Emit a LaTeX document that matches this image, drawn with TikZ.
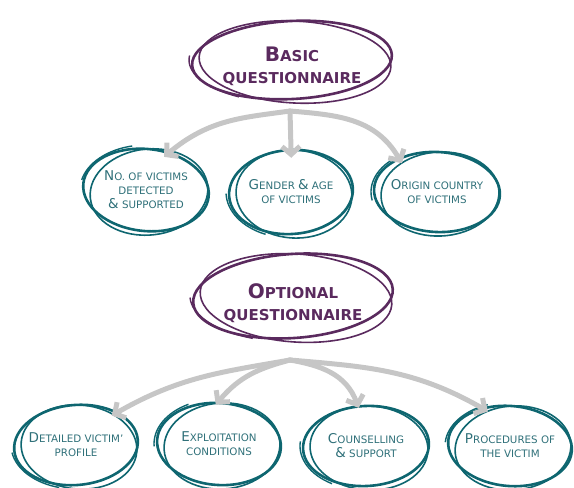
\documentclass[tikz,border=0pt]{standalone}
\usepackage{fontspec}
\setmainfont{DejaVu Sans}
\usetikzlibrary{shapes.geometric,arrows.meta,positioning}

\definecolor{plum}{HTML}{5A2A5E}
\definecolor{tealring}{HTML}{0E6670}
\definecolor{tealtext}{HTML}{2F7079}
\definecolor{arrowgray}{HTML}{C6C6C6}

% big first letters of the fake small caps
\newcommand\inibig[1]{{\fontsize{20}{22}\selectfont #1}}
\newcommand\inismall[1]{{\fontsize{13.5}{14}\selectfont #1}}

% a hand drawn ring round a point
\newcommand\sketchring[5]{%
\draw [#5, line width=2.6pt] (#1) ellipse [x radius=#2pt, y radius=#3pt, rotate=#4];
\draw [#5, line width=1.6pt] ([shift={(3pt,-2pt)}]#1) ellipse [x radius=#2pt-4pt, y radius=#3pt+2pt, rotate=-#4];
\draw [#5, line width=1.4pt] ([shift={(150+#4*8:#2pt+3pt and #3pt+4pt)}]#1)
  arc [start angle=150+#4*8, end angle=215+#4*8, x radius=#2pt+3pt, y radius=#3pt+4pt];
}

\tikzset{
  head/.style={ellipse, minimum width=200pt, minimum height=84pt, inner sep=0pt,
    align=center, text=plum, font=\bfseries\fontsize{15}{22}\selectfont},
  leaf/.style={ellipse, minimum width=128pt, minimum height=86pt, inner sep=0pt,
    align=center, text=tealtext, font=\fontsize{10.3}{14}\selectfont},
  flow/.style={arrowgray, line width=5pt, line cap=round,
    -{Straight Barb[length=8pt,width=18pt]}}
}

\begin{document}
\begin{tikzpicture}[x=1pt,y=1pt]
\useasboundingbox (0,0) rectangle (574,488);

% the basic questionnaire
\node [head] (basic) at (292,422) {\inibig{B}ASIC\\QUESTIONNAIRE};
\coordinate (basicmid) at (292,428);
\sketchring{basicmid}{100}{39}{3}{plum}

\node [leaf] (t1) at (146,298) {\inismall{N}O. OF VICTIMS\\DETECTED\\\inismall{\&} SUPPORTED};
\node [leaf] (t2) at (291,296) {\inismall{G}ENDER \inismall{\&} AGE\\OF VICTIMS};
\node [leaf] (t3) at (437,296) {\inismall{O}RIGIN COUNTRY\\OF VICTIMS};
\sketchring{t1.center}{63}{41}{-6}{tealring}
\sketchring{t2.center}{62}{42}{4}{tealring}
\sketchring{t3.center}{63}{40}{-3}{tealring}

\coordinate (hubA) at (290,377);
\draw [flow, shorten >=-10pt] (hubA) to [out=188,in=40] (t1.57);
\draw [flow, shorten >=-9pt] (hubA) -- (t2.north);
\draw [flow, shorten >=-7pt] (hubA) to [out=-5,in=120] (t3.138);

% the optional questionnaire
\node [head] (opt) at (293,185) {\inibig{O}PTIONAL\\QUESTIONNAIRE};
\coordinate (optmid) at (293,192);
\sketchring{optmid}{100}{42}{4}{plum}

\node [leaf] (b1) at (76,43) {\inismall{D}ETAILED VICTIM’\\PROFILE};
\node [leaf] (b2) at (219,44) {\inismall{E}XPLOITATION\\CONDITIONS};
\node [leaf] (b3) at (366,42) {\inismall{C}OUNSELLING\\\inismall{\&} SUPPORT};
\node [leaf] (b4) at (510,42) {\inismall{P}ROCEDURES OF\\THE VICTIM};
\sketchring{b1.center}{62}{40}{5}{tealring}
\sketchring{b2.center}{62}{41}{-4}{tealring}
\sketchring{b3.center}{63}{40}{3}{tealring}
\sketchring{b4.center}{62}{40}{-5}{tealring}

\coordinate (hubB) at (290,128);
\draw [flow, shorten >=-8pt] (hubB) to [out=190,in=30] (b1.38);
\draw [flow, shorten >=-5pt] (hubB) to [out=195,in=50] (b2.north);
\draw [flow, shorten >=-5pt] (hubB) to [out=-10,in=110] (b3.102);
\draw [flow, shorten >=-8pt] (hubB) to [out=-5,in=150] (b4.127);

%\draw [help lines, step=50] (0,0) grid (574,488);
\end{tikzpicture}
\end{document}
